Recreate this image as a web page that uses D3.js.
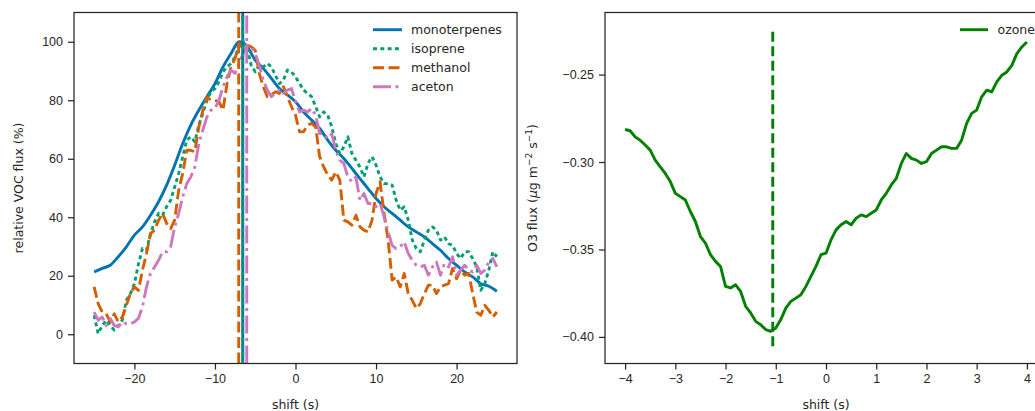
<!DOCTYPE html>
<html><head><meta charset="utf-8">
<script src="https://cdn.jsdelivr.net/npm/d3@7"></script>
<style>
body{margin:0;background:#fff;}
svg{display:block;font-family:"DejaVu Sans",sans-serif;}
.tick text{font-size:12.5px;fill:#262626;}
</style></head><body>
<svg id="c" width="1035" height="411"></svg>
<script>
// ---------- data ----------
const shiftFine = d3.range(-25, 25.001, 0.5).map(v => +v.toFixed(1));
const shiftCoarse = d3.range(-25, 25.001, 1);
const monoterpenes = [21.3,22.5,23.6,26.5,29.9,33.9,36.7,40.7,45.3,51,57.8,65.2,71.5,76.6,81.2,85.7,91.4,96,100,98.3,93.7,90.9,87.5,84,81.8,79.5,76,73.2,70.4,66.4,62.9,60.1,56.7,53.2,49.8,46.4,43.6,41.3,39,36.7,35,33.3,31,28.7,25.9,23.6,21.3,19.6,17.3,16.4,14.7];
const isoprene = [6.5,0.2,3,4.8,3,1.4,3,4.8,11.6,13.9,17.3,24,29.3,28.7,34.4,38.4,41.3,40.7,43.6,45.8,50.4,55,60.7,66.4,67.5,65.8,71.5,75.5,80,82.9,84,86.3,89.7,91.4,92.6,94.9,98.3,100,97.7,92,89.7,92,91.4,92.6,91.4,88.6,85.7,86.9,90.3,89.7,88,85.7,83.5,82.3,81.2,77.8,74.3,76,74.9,70.9,65.2,61.8,64.1,67.5,61.8,59.5,57.2,53.8,58.4,60.7,57.8,53.8,51.5,51.5,51,45.8,42.4,43.6,39,32.2,29.3,28.2,32.2,35.6,36.7,35.6,32.2,33.3,31,30.4,27.6,25.9,28.2,28.2,25.9,23,15,17.3,21.9,28.2,26.5];
const methanol = [16.2,10.5,7.6,7,4.2,7,4.2,5.9,9.9,13.9,16.2,15,21.9,27.6,34.4,35.6,39,41.3,37.9,36.1,39,49.3,55,62.9,62.9,62.4,70.9,76.6,81.2,80,80,79.5,76.6,85.7,91.4,94.3,99.4,98.3,98.9,98.3,97.1,89.2,84.6,81.2,81.8,82.9,82.3,84.6,81.2,77.8,74.9,69.2,69.2,71.5,72.1,70.9,60.7,57.2,54.4,52.7,55.5,52.7,39,38.4,37.3,40.7,36.7,35.6,35,39,48.1,52.1,41.3,32.2,18.5,19.6,16.2,20.8,13.9,11.6,8.8,10.5,13.9,16.8,16.8,13.9,16.2,16.8,17.3,22.5,19,21.9,20.2,20.8,13.9,7.6,6.5,9.9,8.2,5.9,7.6];
const aceton = [7.6,4.8,5.9,3,5.4,3,2.5,4.2,3.6,3.6,4.2,5.4,9.4,16.2,20.8,23,25.3,28.2,28.2,29.9,36.7,41.3,47,51.5,53.8,57.2,65.2,69.8,74.3,76.6,77.2,80,84.6,88,90.3,89.2,92.6,96,98.9,98.3,96,92,86.9,83.5,81.2,82.3,83.5,82.3,83.5,84,79.5,76,76.6,76,77.2,74.9,68.6,68.6,66.9,68.6,62.9,59.5,58.4,53.8,52.1,53.8,45.8,48.1,44.7,44.7,43.6,44.7,40.1,35,30.4,29.3,29.9,31.6,27.6,25.3,23.6,23,23.6,20.2,23,24.7,20.2,24.2,23,26.5,20.2,21.9,23.6,21.9,21.3,23.6,20.8,21.9,24.7,25.9,23];
const vocNames = ["monoterpenes","isoprene","methanol","aceton"];
const vocPeaks = [-6.55, -6.55, -7.05, -6.05];

const shiftO3 = d3.range(-4, 4.001, 0.1).map(v => +v.toFixed(1));
const ozone = [-0.2814,-0.2821,-0.2856,-0.2875,-0.2903,-0.2932,-0.2989,-0.3027,-0.3065,-0.3112,-0.3179,-0.3198,-0.3217,-0.3283,-0.3340,-0.3426,-0.3464,-0.3530,-0.3568,-0.3597,-0.3711,-0.3720,-0.3702,-0.3740,-0.3825,-0.3863,-0.3911,-0.3930,-0.3958,-0.3968,-0.3949,-0.3901,-0.3835,-0.3797,-0.3778,-0.3759,-0.3711,-0.3654,-0.3597,-0.3530,-0.3521,-0.3445,-0.3388,-0.3359,-0.3340,-0.3359,-0.3321,-0.3302,-0.3312,-0.3293,-0.3274,-0.3217,-0.3179,-0.3131,-0.3093,-0.3008,-0.2951,-0.2979,-0.2989,-0.3008,-0.2998,-0.2951,-0.2932,-0.2913,-0.2913,-0.2922,-0.2922,-0.2875,-0.2779,-0.2722,-0.2703,-0.2627,-0.2589,-0.2599,-0.2542,-0.2504,-0.2485,-0.2447,-0.2380,-0.2342,-0.2314];
const ozonePeak = -1.06;
const ozoneVRange = [-0.4053, -0.2238];

const xTicksL = [-20,-10,0,10,20];
const yTicksL = [0,20,40,60,80,100];
const xTicksR = [-4,-3,-2,-1,0,1,2,3,4];
const yTicksR = [-0.40,-0.35,-0.30,-0.25];

// ---------- styles ----------
const colors = ["#0173b2","#029e73","#d55e00","#cc78bc"];
const dashes = [null,"4,3.3","11,4.5","18,4.5,3,4.5"];
const LW = 2.9;

const svg = d3.select("#c");
const fmtMinus = s => String(s).replace("-", "\u2212");

function addClip(x0, x1, y0, y1, clipId){
  svg.append("clipPath").attr("id", clipId).append("rect")
    .attr("x", x0).attr("y", y0).attr("width", x1-x0).attr("height", y1-y0);
}
function styleAxis(sel){
  sel.selectAll(".domain").remove();
  sel.selectAll(".tick line").attr("stroke","#262626").attr("stroke-width",1.25);
}

// ---------- left panel ----------
const L = {x0:74, x1:517, y0:12.5, y1:363.5};
const xL = d3.scaleLinear().domain([-27.5,27.5]).range([L.x0,L.x1]);
const yL = d3.scaleLinear().domain([-10,110]).range([L.y1,L.y0]);
addClip(L.x0, L.x1, L.y0, L.y1, "clipL");

const gL = svg.append("g").attr("clip-path","url(#clipL)");
const seriesL = [
  {x: shiftCoarse, y: monoterpenes, curve: d3.curveMonotoneX},
  {x: shiftFine, y: isoprene, curve: d3.curveLinear},
  {x: shiftFine, y: methanol, curve: d3.curveLinear},
  {x: shiftFine, y: aceton, curve: d3.curveLinear}
];
seriesL.forEach((s,i)=>{
  const line = d3.line().curve(s.curve).x((d,j)=>xL(s.x[j])).y(d=>yL(d));
  gL.append("path").datum(s.y).attr("d", line).attr("fill","none")
    .attr("stroke", colors[i]).attr("stroke-width", LW)
    .attr("stroke-dasharray", dashes[i]).attr("stroke-linejoin","round");
});
vocPeaks.forEach((p,i)=>{
  gL.append("line").attr("x1", xL(p)).attr("x2", xL(p))
    .attr("y1", yL(-10)).attr("y2", yL(110))
    .attr("stroke", colors[i]).attr("stroke-width", LW)
    .attr("stroke-dasharray", dashes[i]);
});

const axXL = svg.append("g").attr("transform",`translate(0,${L.y1})`)
  .call(d3.axisBottom(xL).tickValues(xTicksL).tickSize(6).tickPadding(5).tickFormat(fmtMinus));
styleAxis(axXL);
const axYL = svg.append("g").attr("transform",`translate(${L.x0},0)`)
  .call(d3.axisLeft(yL).tickValues(yTicksL).tickSize(6).tickPadding(5).tickFormat(fmtMinus));
styleAxis(axYL);
svg.append("rect").attr("x",L.x0).attr("y",L.y0).attr("width",L.x1-L.x0).attr("height",L.y1-L.y0)
  .attr("fill","none").attr("stroke","#262626").attr("stroke-width",1.25);

svg.append("text").attr("x",(L.x0+L.x1)/2).attr("y",409).attr("text-anchor","middle")
  .attr("font-size","12.5px").attr("fill","#262626").text("shift (s)");
svg.append("text").attr("transform",`translate(23,${(L.y0+L.y1)/2}) rotate(-90)`)
  .attr("text-anchor","middle").attr("font-size","12.5px").attr("fill","#262626").text("relative VOC flux (%)");

// legend left
const legL = svg.append("g");
vocNames.forEach((n,i)=>{
  const y = 29.7 + i*19;
  legL.append("line").attr("x1",373).attr("x2",402).attr("y1",y).attr("y2",y)
    .attr("stroke",colors[i]).attr("stroke-width",LW).attr("stroke-dasharray",dashes[i]);
  legL.append("text").attr("x",411).attr("y",y+4.5).attr("font-size","12.5px")
    .attr("fill","#262626").text(n);
});

// ---------- right panel ----------
const R = {x0:605, x1:1047, y0:12.5, y1:363.5};
const xR = d3.scaleLinear().domain([-4.4,4.4]).range([R.x0,R.x1]);
const yR = d3.scaleLinear().domain([-0.4152,-0.2145]).range([R.y1,R.y0]);
addClip(R.x0, R.x1, R.y0, R.y1, "clipR");
const gR = svg.append("g").attr("clip-path","url(#clipR)");
gR.append("path").datum(ozone)
  .attr("d", d3.line().x((d,j)=>xR(shiftO3[j])).y(d=>yR(d)))
  .attr("fill","none").attr("stroke","#008000").attr("stroke-width",LW).attr("stroke-linejoin","round");
gR.append("line").attr("x1",xR(ozonePeak)).attr("x2",xR(ozonePeak))
  .attr("y1",yR(ozoneVRange[0])).attr("y2",yR(ozoneVRange[1]))
  .attr("stroke","#008000").attr("stroke-width",LW).attr("stroke-dasharray","10,4.5");

const axXR = svg.append("g").attr("transform",`translate(0,${R.y1})`)
  .call(d3.axisBottom(xR).tickValues(xTicksR).tickSize(6).tickPadding(5).tickFormat(fmtMinus));
styleAxis(axXR);
const axYR = svg.append("g").attr("transform",`translate(${R.x0},0)`)
  .call(d3.axisLeft(yR).tickValues(yTicksR).tickSize(6).tickPadding(5).tickFormat(d=>fmtMinus(d3.format(".2f")(d))));
styleAxis(axYR);
svg.append("rect").attr("x",R.x0).attr("y",R.y0).attr("width",R.x1-R.x0).attr("height",R.y1-R.y0)
  .attr("fill","none").attr("stroke","#262626").attr("stroke-width",1.25);

svg.append("text").attr("x",(R.x0+R.x1)/2).attr("y",409).attr("text-anchor","middle")
  .attr("font-size","12.5px").attr("fill","#262626").text("shift (s)");
const yl = svg.append("text").attr("transform",`translate(537,${(R.y0+R.y1)/2}) rotate(-90)`)
  .attr("text-anchor","middle").attr("font-size","12.5px").attr("fill","#262626");
yl.append("tspan").text("O3 flux (");
yl.append("tspan").attr("font-style","italic").text("\u03bc");
yl.append("tspan").text("g m");
yl.append("tspan").attr("font-size","9px").attr("dy",-5).text("\u22122");
yl.append("tspan").attr("dy",5).text(" s");
yl.append("tspan").attr("font-size","9px").attr("dy",-5).text("\u22121");
yl.append("tspan").attr("dy",5).text(")");

// legend right
svg.append("line").attr("x1",960).attr("x2",988).attr("y1",29.7).attr("y2",29.7)
  .attr("stroke","#008000").attr("stroke-width",LW);
svg.append("text").attr("x",997.5).attr("y",34.2).attr("font-size","12.5px").attr("fill","#262626").text("ozone");
</script></body></html>
